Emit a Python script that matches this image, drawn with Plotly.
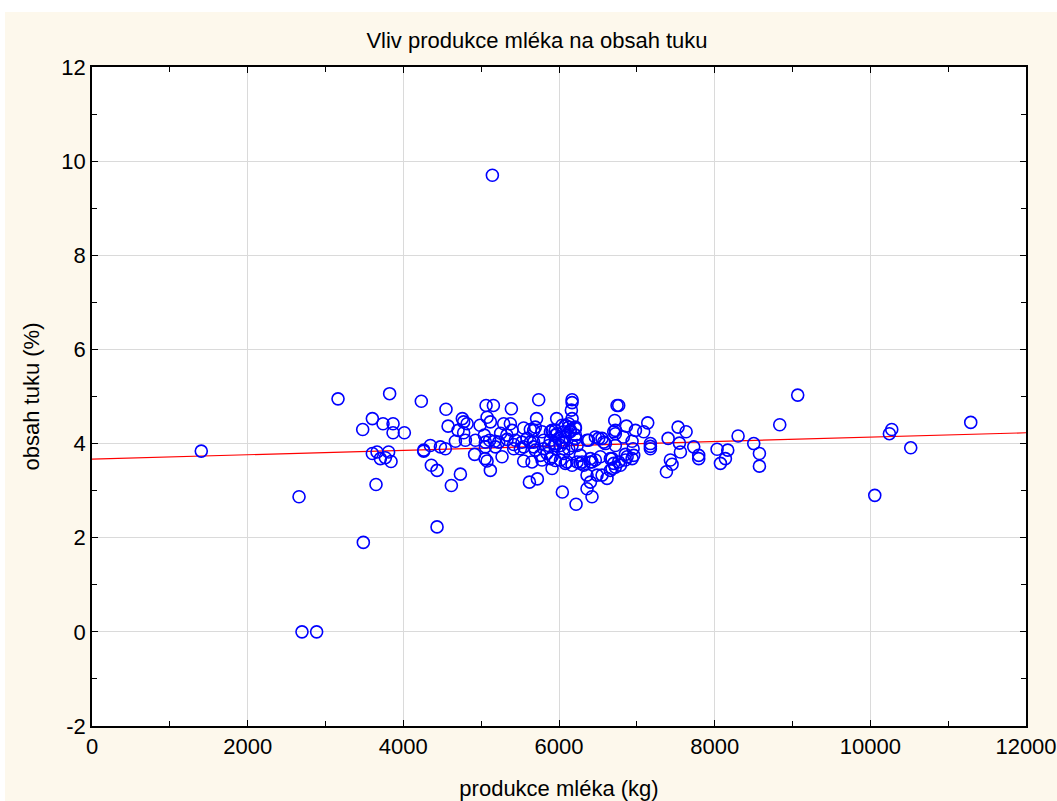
import plotly.graph_objects as go

# milk production (kg) and fat content (%)
milk_kg = [
    1404, 2660, 2698, 2886, 3161, 3486, 3478, 3602, 3602, 3649, 3662, 3705, 3739, 3769, 3811, 3824, 3842,
    3868, 3868, 4013, 4231, 4262, 4262, 4347, 4360, 4433, 4433, 4476, 4540, 4548, 4575, 4617, 4669, 4703,
    4733, 4758, 4775, 4775, 4797, 4819, 4916, 4926, 4986, 5041, 5054, 5050, 5076, 5118, 5063, 5157, 5076,
    5118, 5109, 5173, 5144, 5183, 5054, 5268, 5289, 5375, 5388, 5397, 5250, 5330, 5225, 5333, 5440, 5418,
    5418, 5504, 5525, 5546, 5546, 5546, 5590, 5620, 5632, 5632, 5653, 5675, 5675, 5675, 5696, 5696, 5712,
    5722, 5739, 5760, 5782, 5782, 5803, 5803, 5846, 5868, 5889, 5889, 5889, 5911, 5911, 5911, 5953, 5953,
    5953, 5953, 5953, 5970, 5975, 5996, 6018, 6018, 6039, 6039, 6043, 6060, 6060, 6060, 6060, 6082, 6082,
    6082, 6103, 6125, 6125, 6125, 6146, 6146, 6159, 6168, 6168, 6168, 6168, 6168, 6211, 6211, 6211, 6211,
    6219, 6232, 6233, 6275, 6275, 6296, 6317, 6360, 6360, 6360, 6381, 6403, 6403, 6403, 6424, 6424, 6467,
    6467, 6489, 6510, 6531, 6553, 6553, 6574, 6596, 6617, 6660, 6660, 6682, 6682, 6703, 6703, 6716, 6724,
    6724, 6724, 6724, 6746, 6767, 6767, 6789, 6827, 6853, 6853, 6866, 6875, 6939, 6939, 6952, 6960, 6982,
    7088, 7140, 7174, 7174, 7174, 7380, 7402, 7431, 7453, 7530, 7547, 7560, 7633, 7731, 7795, 7795, 8031,
    8074, 8138, 8168, 8301, 8502, 8575, 8575, 8836, 9067, 10057, 10245, 10275, 10519, 11290,
]
fat_pct = [
    3.84, 2.87, 0.00, 0.00, 4.95, 1.90, 4.30, 4.53, 3.79, 3.13, 3.82, 3.68, 4.42, 3.70, 3.82, 5.06, 3.62,
    4.42, 4.23, 4.23, 4.90, 3.86, 3.84, 3.96, 3.54, 3.43, 2.23, 3.93, 3.89, 4.73, 4.37, 3.11, 4.05, 4.28,
    3.35, 4.53, 4.46, 4.23, 4.07, 4.42, 3.77, 4.07, 4.39, 4.18, 4.03, 3.68, 3.63, 3.43, 4.81, 4.81, 4.56,
    4.46, 4.07, 4.05, 9.70, 3.93, 3.93, 3.72, 4.42, 4.42, 4.74, 4.28, 4.22, 4.18, 4.03, 4.09, 4.07, 3.98,
    3.89, 3.89, 4.03, 4.33, 3.93, 3.63, 4.11, 3.18, 4.30, 4.03, 3.61, 4.28, 4.03, 3.93, 3.86, 4.35, 4.53,
    3.25, 4.93, 3.75, 4.25, 3.65, 3.89, 4.07, 3.79, 3.96, 4.07, 4.25, 3.68, 4.28, 3.72, 3.47, 3.96, 4.28,
    4.18, 4.00, 3.64, 4.53, 4.21, 4.11, 3.65, 3.96, 4.03, 4.39, 2.97, 4.25, 3.79, 4.03, 3.89, 4.39, 4.14,
    3.58, 3.61, 4.42, 4.35, 3.89, 4.28, 4.25, 4.71, 4.93, 4.87, 4.53, 3.54, 3.96, 4.35, 4.11, 4.32, 4.18,
    2.71, 3.61, 3.96, 3.75, 3.58, 3.61, 3.54, 3.33, 3.04, 4.07, 4.07, 3.68, 3.18, 3.61, 3.61, 2.87, 4.14,
    3.65, 3.33, 4.11, 3.72, 4.11, 3.33, 4.03, 4.00, 3.26, 3.43, 3.68, 3.68, 3.47, 4.25, 3.58, 4.49, 4.28,
    4.21, 3.96, 3.50, 4.81, 4.81, 3.61, 3.54, 4.14, 3.77, 3.65, 4.37, 3.72, 4.05, 3.68, 3.89, 3.75, 4.28,
    4.25, 4.44, 4.00, 3.94, 3.89, 3.40, 4.11, 3.65, 3.56, 4.35, 4.01, 3.82, 4.25, 3.93, 3.75, 3.68, 3.88,
    3.58, 3.68, 3.86, 4.16, 4.00, 3.79, 3.52, 4.40, 5.03, 2.90, 4.21, 4.30, 3.91, 4.45,
]

# regression line
fit_x = [0, 12000]
fit_y = [3.67, 4.23]

x_ticks = [0, 2000, 4000, 6000, 8000, 10000, 12000]
y_ticks = [-2, 0, 2, 4, 6, 8, 10, 12]

W, H = 1057, 801
L, R, T, B = 92, 31, 67, 75
pw, ph = W - L - R, H - T - B

fig = go.Figure()
fig.add_trace(go.Scatter(
    x=fit_x, y=fit_y, mode="lines",
    line=dict(color="#ff0000", width=1.2), hoverinfo="skip", showlegend=False,
))
fig.add_trace(go.Scatter(
    x=milk_kg, y=fat_pct, mode="markers",
    marker=dict(symbol="circle-open", size=12, color="#0000ff", line=dict(width=1.6, color="#0000ff")),
    showlegend=False,
))

# cream background panel
fig.add_shape(
    type="rect", xref="paper", yref="paper", layer="below",
    x0=(5 - L) / pw, x1=(W - L) / pw, y0=(H - B - H) / ph, y1=(H - B - 12) / ph,
    fillcolor="#fdf8ec", line=dict(width=0),
)
# white plot area
fig.add_shape(
    type="rect", xref="paper", yref="paper", layer="below",
    x0=0, x1=1, y0=0, y1=1, fillcolor="white", line=dict(width=0),
)

FONT = "Arial, Liberation Sans, sans-serif"
axis_font = dict(family=FONT, size=22, color="black")
fig.update_layout(
    width=W, height=H,
    margin=dict(l=L, r=R, t=T, b=B, autoexpand=False),
    paper_bgcolor="white", plot_bgcolor="rgba(0,0,0,0)",
    font=dict(family=FONT, color="black"),
    title=dict(text="Vliv produkce mléka na obsah tuku", x=537 / W, xanchor="center",
               y=1 - 40 / H, yanchor="middle",
               font=dict(family=FONT, size=22, color="black")),
    xaxis=dict(
        range=[0, 12000], tickvals=x_ticks, ticktext=[str(v) for v in x_ticks],
        showgrid=True, gridcolor="#dadada", gridwidth=1, zeroline=False, automargin=False,
        showline=True, linecolor="black", linewidth=1.5, mirror="ticks",
        ticks="inside", ticklen=6, tickcolor="black", tickwidth=1,
        minor=dict(dtick=1000, ticks="inside", ticklen=5, tickcolor="black", showgrid=False),
        tickfont=axis_font,
        title=dict(text="produkce mléka (kg)", font=axis_font, standoff=22),
    ),
    yaxis=dict(
        range=[-2, 12], tickvals=y_ticks, ticktext=[str(v) for v in y_ticks],
        showgrid=True, gridcolor="#dadada", gridwidth=1, zeroline=False, automargin=False,
        showline=True, linecolor="black", linewidth=1.5, mirror="ticks",
        ticks="inside", ticklen=6, tickcolor="black", tickwidth=1,
        minor=dict(dtick=1, ticks="inside", ticklen=5, tickcolor="black", showgrid=False),
        tickfont=axis_font,
        title=dict(text="obsah tuku (%)", font=axis_font, standoff=16),
    ),
)

fig.write_html("out.html")
